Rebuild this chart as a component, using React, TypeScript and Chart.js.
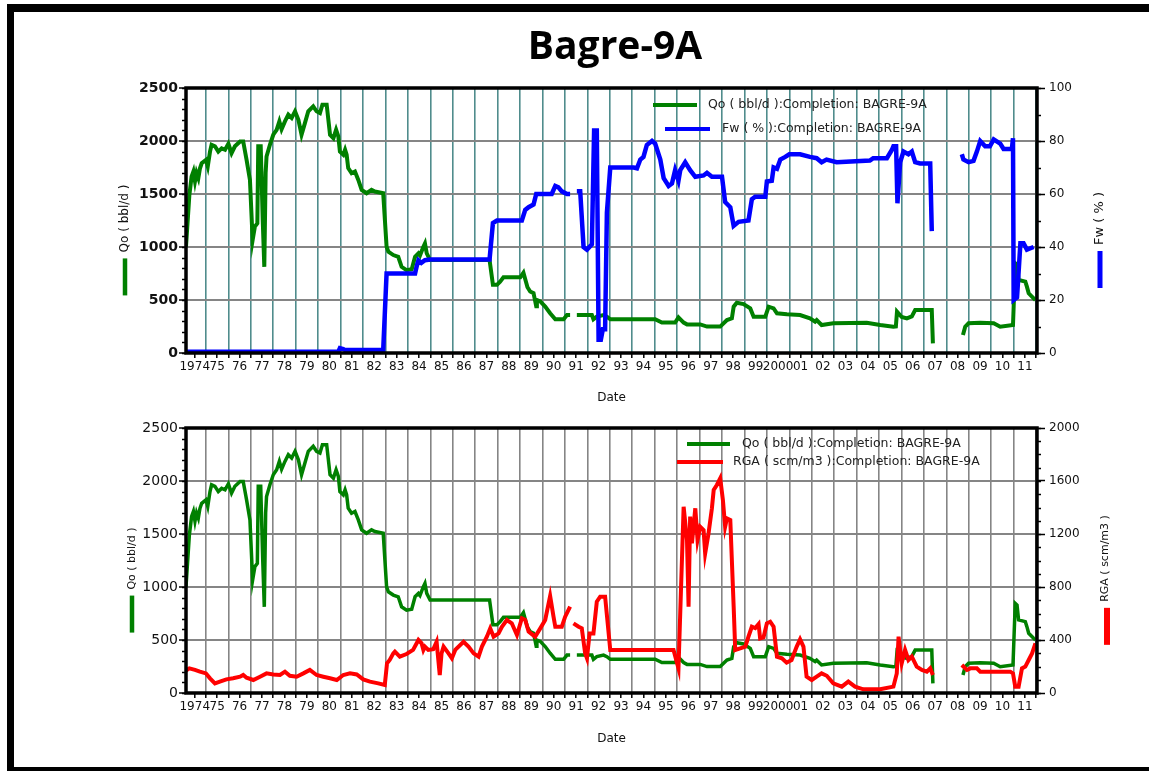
import React, { useEffect, useRef } from 'react';
import { Chart, registerables } from 'chart.js';

Chart.register(...registerables);
Chart.defaults.font.family = '"DejaVu Sans", sans-serif';

// ---------------- data ----------------
const X_MIN = 1974.11;
const X_MAX = 2012.04;
const FIRST_LABEL_YEAR = 1974;
const LAST_LABEL_YEAR = 2011;

const qoX = [
  1974.11, 1974.26, 1974.36, 1974.44, 1974.51, 1974.58, 1974.66, 1974.73, 1974.81, 1975.0, 1975.08, 1975.18,
  1975.25, 1975.4, 1975.55, 1975.7, 1975.85, 1976.0, 1976.14, 1976.29, 1976.52, 1976.66, 1976.81, 1976.96,
  1977.08, 1977.18, 1977.29, 1977.33, 1977.44, 1977.53, 1977.6, 1977.66, 1977.7, 1977.85, 1978.0, 1978.15,
  1978.27, 1978.37, 1978.52, 1978.67, 1978.82, 1978.97, 1979.12, 1979.26, 1979.41, 1979.56, 1979.78, 1979.93,
  1980.08, 1980.19, 1980.38, 1980.53, 1980.68, 1980.8, 1980.9, 1980.97, 1981.12, 1981.2, 1981.27, 1981.34,
  1981.49, 1981.64, 1981.79, 1981.94, 1982.16, 1982.38, 1982.53, 1982.9, 1983.05, 1983.13, 1983.35, 1983.57,
  1983.72, 1983.94, 1984.17, 1984.32, 1984.47, 1984.54, 1984.69, 1984.76, 1984.84, 1984.99, 1987.64, 1987.79,
  1987.97, 1988.11, 1988.26, 1989.01, 1989.15, 1989.33, 1989.45, 1989.6, 1989.72, 1989.75, 1989.9, 1990.12,
  1990.34, 1990.57, 1990.94, 1991.09, 1991.23, 1991.38, 1991.53, 1992.2, 1992.27, 1992.42, 1992.72, 1992.87,
  1993.02, 1995.02, 1995.32, 1995.91, 1996.06, 1996.29, 1996.44, 1997.03, 1997.33, 1997.92, 1998.22, 1998.44,
  1998.52, 1998.66, 1998.96, 1999.26, 1999.41, 1999.93, 2000.08, 2000.3, 2000.45, 2000.89, 2001.48, 2001.92,
  2002.15, 2002.22, 2002.44, 2002.96, 2004.45, 2005.05, 2005.64, 2005.75, 2005.8, 2006.01, 2006.24, 2006.46,
  2006.61, 2007.35, 2007.4, 2008.0, 2008.74, 2008.84, 2008.99, 2009.51, 2010.11, 2010.4, 2010.97, 2011.07,
  2011.15, 2011.22, 2011.52, 2011.59, 2011.67, 2011.89, 2011.97,
];
const qoY = [
  1003, 1491, 1665, 1712, 1620, 1700, 1650, 1740, 1790, 1822, 1760, 1900,
  1964, 1950, 1900, 1930, 1917, 1974, 1885, 1950, 1996, 1996, 1822, 1633,
  1066, 1192, 1223, 1950, 1950, 1255, 813, 1700, 1854, 1964, 2059, 2106,
  2185, 2110, 2185, 2248, 2217, 2280, 2200, 2059, 2169, 2280, 2327, 2280,
  2264, 2343, 2343, 2059, 2027, 2106, 2043, 1900, 1870, 1917, 1870, 1744,
  1696, 1712, 1633, 1539, 1507, 1539, 1523, 1507, 1003, 955, 924, 908,
  813, 782, 790, 908, 940, 920, 1003, 1034, 940, 877, 877, 643,
  643, 673, 714, 714, 758, 620, 580, 565, 440, 500, 487, 438,
  375, 318, 318, 358, 358, null, 358, 358, 318, 343, 358, 343,
  318, 318, 287, 287, 336, 287, 270, 270, 249, 249, 311, 327,
  437, 474, 462, 421, 343, 343, 437, 421, 374, 365, 358, 327,
  296, 310, 264, 280, 286, 264, 248, 250, 390, 340, 327, 345,
  405, 405, 91, null, 170, 248, 280, 286, 280, 248, 264, 846,
  830, 689, 673, 626, 563, 516, 500,
];

const fwX = [
  1974.11, 1980.9, 1980.97, 1981.12, 1981.2, 1982.9, 1983.05, 1984.32, 1984.4, 1984.47, 1984.6, 1984.76,
  1984.99, 1987.64, 1987.79, 1987.97, 1989.08, 1989.23, 1989.38, 1989.6, 1989.72, 1989.9, 1990.41, 1990.57,
  1990.71, 1990.86, 1991.09, 1991.23, 1991.38, 1991.53, 1991.68, 1991.83, 1991.98, 1992.2, 1992.3, 1992.42,
  1992.5, 1992.6, 1992.69, 1992.79, 1992.87, 1993.02, 1994.06, 1994.21, 1994.36, 1994.5, 1994.65, 1994.88,
  1995.02, 1995.25, 1995.4, 1995.62, 1995.77, 1995.91, 1996.06, 1996.14, 1996.36, 1996.58, 1996.81, 1997.18,
  1997.33, 1997.55, 1998.0, 1998.14, 1998.37, 1998.52, 1998.74, 1999.18, 1999.33, 1999.48, 1999.93, 2000.0,
  2000.22, 2000.3, 2000.45, 2000.6, 2000.82, 2001.0, 2001.48, 2001.92, 2002.22, 2002.44, 2002.66, 2003.11,
  2004.59, 2004.74, 2005.35, 2005.57, 2005.64, 2005.76, 2005.82, 2005.94, 2006.09, 2006.31, 2006.46, 2006.61,
  2006.83, 2007.28, 2007.35, 2008.0, 2008.69, 2008.76, 2008.99, 2009.21, 2009.36, 2009.51, 2009.73, 2009.94,
  2010.11, 2010.4, 2010.55, 2010.92, 2010.97, 2011.0, 2011.15, 2011.3, 2011.44, 2011.59, 2011.89,
];
const fwY = [
  0.5, 0.5, 1.8, 1.5, 1.1, 1.1, 30, 30, 33, 35, 34, 35,
  35.3, 35.3, 49, 50, 50, 54, 55, 56, 60, 60, 60, 63,
  62.5, 61, 60, 60, null, 61, 61, 40, 39, 41, 84, 84,
  5, 5, 9, 9, 53, 70, 70, 69.7, 73, 74, 78.5, 80,
  79, 73, 66, 63, 64, 69, 65, 69, 72, 69, 66.5, 67,
  68, 66.5, 66.5, 57, 55, 48, 49.5, 50, 58, 59, 59, 64.7,
  65, 70, 69.5, 73, 74, 75, 75, 74, 73.5, 72, 73, 72,
  72.6, 73.5, 73.5, 76.6, 78, 78, 56.5, 72, 76, 75, 76, 72,
  71.5, 71.5, 46, null, 75, 73, 72, 72.5, 76, 80, 78, 78,
  80.6, 79, 77, 77, 81, 20, 21, 41.4, 41.4, 39, 40,
];

const rgaX = [
  1974.11, 1974.26, 1974.51, 1974.73, 1975.0, 1975.18, 1975.4, 1975.62, 1975.91, 1976.21, 1976.52, 1976.66,
  1976.81, 1977.11, 1977.41, 1977.7, 1978.0, 1978.3, 1978.52, 1978.74, 1979.04, 1979.34, 1979.63, 1979.93,
  1980.23, 1980.53, 1980.83, 1981.12, 1981.42, 1981.72, 1982.01, 1982.31, 1982.68, 1982.97, 1983.07, 1983.19,
  1983.35, 1983.42, 1983.64, 1983.94, 1984.23, 1984.47, 1984.61, 1984.69, 1984.76, 1984.91, 1985.13, 1985.28,
  1985.42, 1985.5, 1985.59, 1985.81, 1985.96, 1986.11, 1986.48, 1986.7, 1986.93, 1987.15, 1987.3, 1987.52,
  1987.67, 1987.82, 1988.04, 1988.19, 1988.41, 1988.63, 1988.86, 1989.08, 1989.23, 1989.38, 1989.67, 1989.9,
  1990.12, 1990.34, 1990.49, 1990.57, 1990.86, 1991.01, 1991.23, 1991.3, 1991.38, 1991.61, 1991.75, 1991.9,
  1991.98, 1992.1, 1992.27, 1992.42, 1992.57, 1992.79, 1993.02, 1995.84, 1996.06, 1996.29, 1996.44, 1996.51,
  1996.58, 1996.66, 1996.81, 1996.91, 1997.03, 1997.18, 1997.25, 1997.4, 1997.55, 1997.63, 1997.77, 1997.92,
  1998.04, 1998.14, 1998.22, 1998.37, 1998.52, 1998.59, 1998.81, 1999.04, 1999.18, 1999.33, 1999.48, 1999.63,
  1999.7, 1999.85, 2000.0, 2000.15, 2000.3, 2000.45, 2000.67, 2000.88, 2001.1, 2001.33, 2001.48, 2001.63,
  2001.77, 2002.0, 2002.22, 2002.44, 2002.67, 2002.96, 2003.34, 2003.63, 2003.93, 2004.3, 2005.05, 2005.64,
  2005.79, 2005.87, 2006.01, 2006.16, 2006.31, 2006.46, 2006.68, 2006.91, 2007.13, 2007.28, 2007.4, 2008.0,
  2008.69, 2008.92, 2009.07, 2009.36, 2009.51, 2010.85, 2010.97, 2011.07, 2011.22, 2011.37, 2011.52, 2011.67,
  2011.82, 2011.97,
];
const rgaY = [
  170, 186, 174, 161, 148, 111, 73, 86, 103, 111, 123, 136,
  115, 98, 123, 148, 140, 136, 161, 130, 123, 148, 174, 136,
  123, 111, 98, 136, 148, 140, 103, 86, 73, 60, 224, 249,
  299, 312, 274, 294, 325, 400, 375, 325, 350, 325, 330, 387,
  136, 299, 350, 299, 262, 325, 387, 350, 299, 274, 350, 425,
  488, 425, 450, 500, 551, 526, 438, 564, 551, 463, 425, 488,
  551, 732, 576, 500, 500, 576, 652, null, 526, 500, 488, 299,
  262, 450, 450, 689, 727, 727, 325, 325, 186, 1406, 1155, 652,
  1331, 1130, 1394, 1155, 1255, 1230, 1054, 1205, 1394, 1532, 1570, 1620,
  1457, 1255, 1318, 1306, 652, 325, 337, 350, 425, 500, 490, 520,
  412, 420, 526, 538, 500, 274, 262, 229, 249, 350, 405, 350,
  123, 98, 123, 148, 130, 73, 48, 86, 48, 28, 28, 48,
  148, 425, 224, 325, 249, 274, 199, 174, 161, 186, 136, null,
  211, 174, 186, 186, 161, 161, 148, 48, 48, 186, 199, 249,
  299, 375,
];

const QO_LABEL = 'Qo ( bbl/d ):Completion: BAGRE-9A';
const FW_LABEL = 'Fw ( % ):Completion: BAGRE-9A';
const RGA_LABEL = 'RGA ( scm/m3 ):Completion: BAGRE-9A';

// ---------------- styling ----------------
const GREEN = '#008000';
const BLUE = '#0000ff';
const RED = '#ff0000';
const TEXT = '#111111';
const GRAY_GRID = '#858585';
const TEAL_GRID = '#4f8c8c';

const halfYearTicks: number[] = [];
for (let y = FIRST_LABEL_YEAR; y <= LAST_LABEL_YEAR; y++) {
  halfYearTicks.push(y + 0.5);
  if (y + 1 <= X_MAX) halfYearTicks.push(y + 1);
}

function yearLabel(v: number) {
  if (v % 1 !== 0.5) return '';
  const y = Math.floor(v);
  if (y === FIRST_LABEL_YEAR || y === 2000) return String(y);
  return String(y % 100).padStart(2, '0');
}

function pts(xs: number[], ys: (number | null)[]) {
  return xs.map((x, i) => ({ x, y: ys[i] }));
}

function makeDecor(cfg: any) {
  return {
    id: 'decor' + cfg.key,
    afterDraw(chart: any) {
      const { ctx, chartArea: a, scales } = chart;
      ctx.save();
      // minor ticks
      ctx.strokeStyle = '#000';
      ctx.lineWidth = 1.5;
      const yl = scales.y;
      for (let v = 0; v <= yl.max + 1e-9; v += cfg.leftMinor) {
        const p = Math.round(yl.getPixelForValue(v)) + 0.5;
        ctx.beginPath(); ctx.moveTo(a.left - 4, p); ctx.lineTo(a.left, p); ctx.stroke();
      }
      const yr = scales.y1;
      for (let v = 0; v <= yr.max + 1e-9; v += cfg.rightMinor) {
        const p = Math.round(yr.getPixelForValue(v)) + 0.5;
        ctx.beginPath(); ctx.moveTo(a.right, p); ctx.lineTo(a.right + 4, p); ctx.stroke();
      }
      // frame
      ctx.lineWidth = 3.5;
      ctx.strokeStyle = '#000';
      ctx.strokeRect(a.left, a.top, a.right - a.left, a.bottom - a.top);

      // legend inside plot
      ctx.font = '12.5px "DejaVu Sans"';
      ctx.textBaseline = 'middle';
      ctx.textAlign = 'left';
      for (const e of cfg.legend) {
        const y = a.top + e.dy;
        ctx.strokeStyle = e.color;
        ctx.lineWidth = 4;
        ctx.beginPath(); ctx.moveTo(e.x1, y); ctx.lineTo(e.x2, y); ctx.stroke();
        ctx.fillStyle = '#222';
        ctx.fillText(e.text, e.tx, y);
      }

      // axis titles with colour bars
      const cy = (a.top + a.bottom) / 2 - 2;
      for (const t of cfg.axisTitles) {
        const x = t.side === 'left' ? a.left - t.off : a.right + t.off;
        ctx.font = t.font;
        const w = ctx.measureText(t.text).width;
        ctx.save();
        ctx.translate(x, cy);
        ctx.rotate(-Math.PI / 2);
        ctx.textAlign = 'center';
        ctx.textBaseline = 'middle';
        ctx.fillStyle = TEXT;
        ctx.fillText(t.text, 0, 0);
        ctx.restore();
        ctx.fillStyle = t.color;
        ctx.fillRect(x - t.barW / 2 + (t.barDx || 0), cy + w / 2 + 6, t.barW, 37);
      }

      // x axis title
      ctx.font = '12px "DejaVu Sans"';
      ctx.fillStyle = TEXT;
      ctx.textAlign = 'center';
      ctx.textBaseline = 'middle';
      ctx.fillText('Date', (a.left + a.right) / 2, cfg.dateY);

      if (cfg.title) {
        ctx.font = 'bold 39px "Open Sans"';
        ctx.fillStyle = '#000';
        ctx.textAlign = 'center';
        ctx.textBaseline = 'alphabetic';
        ctx.fillText(cfg.title, 615, 59);
      }
      ctx.restore();
    },
  };
}

function makeConfig(opts: any) {
  return {
    type: 'line',
    data: { datasets: opts.datasets },
    options: {
      responsive: true,
      maintainAspectRatio: false,
      animation: false,
      events: [],
      layout: { padding: { top: opts.padTop, bottom: opts.padBottom, left: 0, right: 0 } },
      plugins: { legend: { display: false }, tooltip: { enabled: false }, title: { display: false } },
      elements: { point: { radius: 0 }, line: { tension: 0 } },
      scales: {
        x: {
          type: 'linear',
          min: X_MIN,
          max: X_MAX,
          afterBuildTicks: (s: any) => { s.ticks = halfYearTicks.map((v) => ({ value: v })); },
          afterFit: (s: any) => { s.height = opts.xAxisHeight; },
          ticks: {
            autoSkip: false, maxRotation: 0, minRotation: 0, padding: 2, color: TEXT,
            font: { size: 12 },
            callback: (v: any) => yearLabel(Number(v)),
          },
          grid: {
            color: (c: any) => (c.tick && Number.isInteger(c.tick.value) ? opts.vGrid : 'rgba(0,0,0,0)'),
            lineWidth: 1.6,
            tickColor: '#000',
            tickLength: 5,
            tickWidth: 1.5,
          },
          border: { display: false },
        },
        y: {
          type: 'linear',
          position: 'left',
          min: 0,
          max: 2500,
          afterFit: (s: any) => { s.width = 186; },
          ticks: { stepSize: 500, color: TEXT, padding: 1, font: opts.leftFont, callback: (v: any) => String(v) },
          grid: { color: GRAY_GRID, lineWidth: 2, tickColor: '#000', tickLength: 7, tickWidth: 1.5 },
          border: { display: false },
        },
        y1: {
          type: 'linear',
          position: 'right',
          min: 0,
          max: opts.rightMax,
          afterFit: (s: any) => { s.width = 112; },
          ticks: { stepSize: opts.rightStep, color: TEXT, padding: 4, font: { size: 12 }, callback: (v: any) => String(v) },
          grid: { drawOnChartArea: false, tickColor: '#000', tickLength: 8, tickWidth: 1.5 },
          border: { display: false },
        },
      },
    },
    plugins: [makeDecor(opts.decor)],
  } as any;
}

export default function App() {
  const c1 = useRef<HTMLCanvasElement>(null);
  const c2 = useRef<HTMLCanvasElement>(null);

  useEffect(() => {
    const top = new Chart(c1.current as HTMLCanvasElement, makeConfig({
      padTop: 88,
      padBottom: 0,
      xAxisHeight: 57,
      vGrid: TEAL_GRID,
      leftFont: { size: 14, weight: 'bold' },
      rightMax: 100,
      rightStep: 20,
      datasets: [
        { label: FW_LABEL, data: pts(fwX, fwY), yAxisID: 'y1', borderColor: BLUE, borderWidth: 4.5, pointRadius: 0, spanGaps: false, fill: false },
        { label: QO_LABEL, data: pts(qoX, qoY), yAxisID: 'y', borderColor: GREEN, borderWidth: 4, pointRadius: 0, spanGaps: false, fill: false },
      ],
      decor: {
        key: 'top',
        leftMinor: 100,
        rightMinor: 10,
        dateY: 398,
        title: 'Bagre-9A',
        legend: [
          { color: GREEN, x1: 653, x2: 697, dy: 17, tx: 708, text: QO_LABEL },
          { color: BLUE, x1: 665, x2: 710, dy: 41, tx: 722, text: FW_LABEL },
        ],
        axisTitles: [
          { side: 'left', off: 61, text: 'Qo ( bbl/d )', font: '12px "DejaVu Sans"', color: GREEN, barW: 4.5 },
          { side: 'right', off: 63, text: 'Fw ( % )', font: '13px "DejaVu Sans"', color: BLUE, barW: 5 },
        ],
      },
    }));

    const bottom = new Chart(c2.current as HTMLCanvasElement, makeConfig({
      padTop: 18,
      padBottom: 19,
      xAxisHeight: 62,
      vGrid: GRAY_GRID,
      leftFont: { size: 14 },
      rightMax: 2000,
      rightStep: 400,
      datasets: [
        { label: RGA_LABEL, data: pts(rgaX, rgaY), yAxisID: 'y1', borderColor: RED, borderWidth: 4, pointRadius: 0, spanGaps: false, fill: false },
        { label: QO_LABEL, data: pts(qoX, qoY), yAxisID: 'y', borderColor: GREEN, borderWidth: 3.5, pointRadius: 0, spanGaps: false, fill: false },
      ],
      decor: {
        key: 'bottom',
        leftMinor: 100,
        rightMinor: 100,
        dateY: 329,
        legend: [
          { color: GREEN, x1: 687, x2: 730, dy: 16, tx: 742, text: QO_LABEL },
          { color: RED, x1: 677, x2: 723, dy: 34, tx: 733, text: RGA_LABEL },
        ],
        axisTitles: [
          { side: 'left', off: 54, text: 'Qo ( bbl/d )', font: '11px "DejaVu Sans"', color: GREEN, barW: 4.5 },
          { side: 'right', off: 68, text: 'RGA ( scm/m3 )', font: '11px "DejaVu Sans"', color: RED, barW: 6, barDx: 2 },
        ],
      },
    }));

    return () => {
      top.destroy();
      bottom.destroy();
    };
  }, []);

  return (
    <div style={{ position: 'fixed', left: 0, top: 0, width: 1149, height: 774, background: '#fff', overflow: 'hidden' }}>
      <div style={{ position: 'absolute', left: 0, top: 0, width: 1149, height: 410 }}>
        <canvas ref={c1} />
      </div>
      <div style={{ position: 'absolute', left: 0, top: 410, width: 1149, height: 364 }}>
        <canvas ref={c2} />
      </div>
      <div
        style={{
          position: 'absolute', left: 7, top: 4, width: 1142, height: 767, boxSizing: 'border-box',
          borderLeft: '7px solid #000', borderTop: '8px solid #000', borderBottom: '4px solid #000',
          pointerEvents: 'none',
        }}
      />
    </div>
  );
}
